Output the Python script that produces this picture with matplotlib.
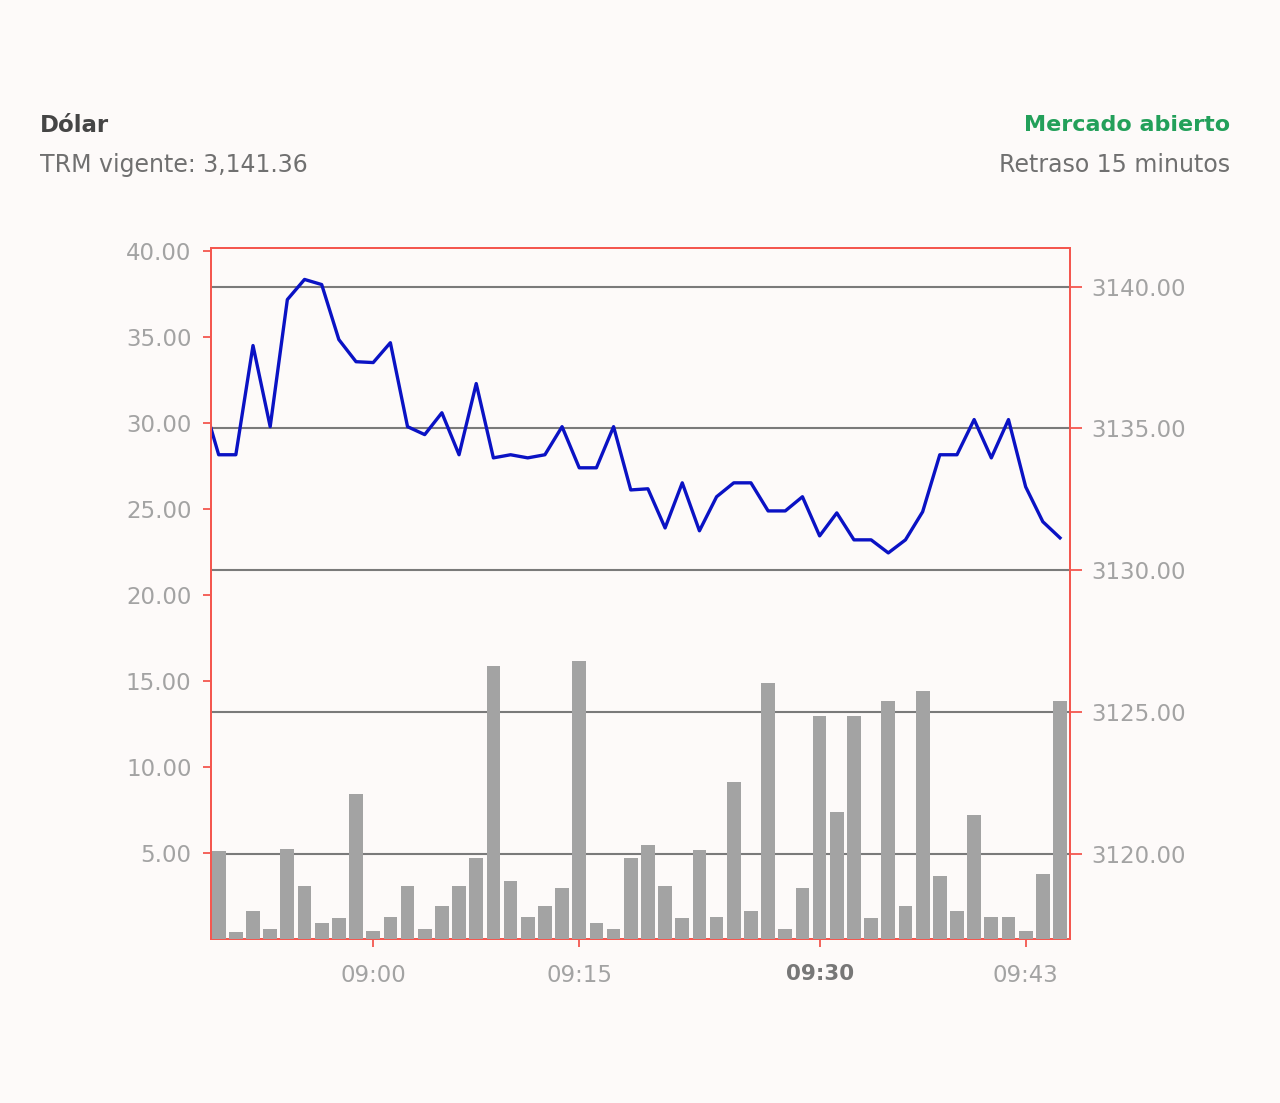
import numpy as np
import matplotlib
matplotlib.use('Agg')
from matplotlib import pyplot as plt

# volume bars (left axis), one per traded interval
volumes = [5.1, 0.4, 1.6, 0.6, 5.2, 3.1, 0.9, 1.2, 8.4, 0.45,
           1.3, 3.1, 0.6, 1.9, 3.1, 4.7, 15.85, 3.35, 1.3, 1.9,
           2.95, 16.15, 0.9, 0.6, 4.7, 5.45, 3.1, 1.2, 5.15, 1.3,
           9.1, 1.6, 14.85, 0.6, 2.95, 12.95, 7.35, 12.95, 1.2, 13.8,
           1.9, 14.4, 3.65, 1.6, 7.2, 1.3, 1.3, 0.45, 3.8, 13.8]

# price line (right axis); first point lies just left of the plot
prices = [3136.15, 3134.07, 3134.07, 3137.92, 3135.06, 3139.54, 3140.25, 3140.07, 3138.13, 3137.35,
          3137.32, 3138.02, 3135.06, 3134.78, 3135.55, 3134.07, 3136.58, 3133.96, 3134.07, 3133.96,
          3134.07, 3135.06, 3133.61, 3133.61, 3135.06, 3132.83, 3132.87, 3131.49, 3133.08, 3131.39,
          3132.59, 3133.08, 3133.08, 3132.09, 3132.09, 3132.59, 3131.21, 3132.02, 3131.07, 3131.07,
          3130.61, 3131.07, 3132.06, 3134.07, 3134.07, 3135.31, 3133.96, 3135.31, 3132.94, 3131.71,
          3131.14]

tick_idx = [9, 21, 35, 47]
tick_labels = ['09:00', '09:15', '09:30', '09:43']
left_ticks = [5, 10, 15, 20, 25, 30, 35, 40]
right_ticks = [3120, 3125, 3130, 3135, 3140]
trm = 3141.36

BG = '#fdfaf9'
RED = '#f4574f'
GREY_TXT = '#a3a3a3'


def main():
    plt.rcParams['font.family'] = ['DejaVu Sans']
    fig = plt.figure(figsize=(12.8, 11.03), dpi=100, facecolor=BG)

    ax2 = fig.add_axes([0.1648, 0.1487, 0.6711, 0.6265])
    ax = ax2.twinx()
    # bars drawn on top of the grid (which belongs to the right axis)
    ax.set_zorder(ax2.get_zorder() + 1)
    ax.patch.set_visible(False)
    ax2.set_facecolor(BG)

    x_bar = np.arange(len(volumes))
    x_line = np.arange(-1, len(prices) - 1)

    ax.bar(x_bar, volumes, width=0.8, color='#a3a3a3', zorder=3)
    ax2.plot(x_line, prices, color='#0a12c4', lw=2.4, zorder=3)

    ax2.set_xlim(-0.45, len(volumes) - 0.42)
    ax.set_ylim(0, 40.15)
    ax2.set_ylim(3117.0, trm)

    # ax holds bars -> put its scale on the left
    ax.yaxis.tick_left()
    ax2.yaxis.tick_right()

    ax.set_yticks(left_ticks)
    ax.set_yticklabels(['%.2f' % v for v in left_ticks])
    ax2.set_yticks(right_ticks)
    ax2.set_yticklabels(['%.2f' % v for v in right_ticks])
    ax2.grid(axis='y', color='#7a7a7a', lw=1.5)
    ax2.set_axisbelow(True)

    ax2.set_xticks(tick_idx)
    ax2.set_xticklabels(tick_labels)
    ax.tick_params(axis='x', bottom=False, labelbottom=False, top=False)

    ax.tick_params(axis='y', colors=RED, labelcolor=GREY_TXT, labelsize=16.5,
                   length=6, width=1.3, pad=8)
    ax2.tick_params(axis='y', colors=RED, labelcolor=GREY_TXT, labelsize=16.5,
                    length=8.5, width=1.3, pad=7, left=False, right=True)
    ax2.tick_params(axis='x', colors=RED, labelcolor=GREY_TXT, labelsize=16.5,
                    length=6, width=1.3, pad=12)
    lab = ax2.get_xticklabels()[2]
    lab.set_fontweight('bold')
    lab.set_fontsize(15.5)
    lab.set_color('#777777')

    for a in (ax, ax2):
        for s in a.spines.values():
            s.set_color(RED)
            s.set_linewidth(1.4)

    fig.text(40 / 1280, 1 - 125 / 1103, 'Dólar', fontsize=16.5, fontweight='bold',
             color='#454545', va='center', ha='left')
    fig.text(40 / 1280, 1 - 165 / 1103, 'TRM vigente: 3,141.36', fontsize=17,
             color='#707070', va='center', ha='left')
    fig.text(1230 / 1280, 1 - 125 / 1103, 'Mercado abierto', fontsize=16,
             fontweight='bold', color='#23a05a', va='center', ha='right')
    fig.text(1230 / 1280, 1 - 165 / 1103, 'Retraso 15 minutos', fontsize=17,
             color='#707070', va='center', ha='right')

    fig.savefig('out.png', dpi=100, facecolor=BG)


if __name__ == '__main__':
    main()
